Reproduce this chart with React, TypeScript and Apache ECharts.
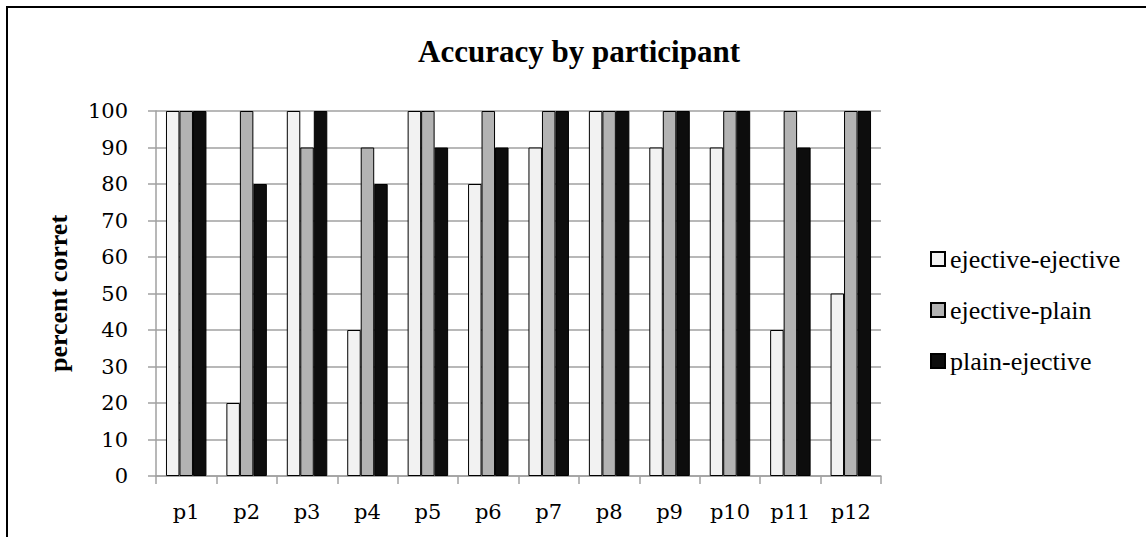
import React, { useEffect, useRef } from "react";
import * as echarts from "echarts";

const participants = ["p1", "p2", "p3", "p4", "p5", "p6", "p7", "p8", "p9", "p10", "p11", "p12"];
const ejectiveEjective = [100, 20, 100, 40, 100, 80, 90, 100, 90, 90, 40, 50];
const ejectivePlain = [100, 100, 90, 90, 100, 100, 100, 100, 100, 100, 100, 100];
const plainEjective = [100, 80, 100, 80, 90, 90, 100, 100, 100, 100, 90, 100];
const seriesNames = ["ejective-ejective", "ejective-plain", "plain-ejective"];
const seriesColors = ["#f2f2f2", "#b3b3b3", "#0d0d0d"];
const yTicks = { min: 0, max: 100, interval: 10 };

export default function App() {
  const ref = useRef<HTMLDivElement>(null);
  useEffect(() => {
    if (!ref.current) return;
    const chart = echarts.init(ref.current, null, { renderer: "svg" });
    const values = [ejectiveEjective, ejectivePlain, plainEjective];
    const grayLine = { color: "#a0a0a0", width: 1.5 };
    chart.setOption({
      animation: false,
      backgroundColor: "#ffffff",
      title: {
        text: "Accuracy by participant",
        left: 418,
        top: 36,
        padding: 0,
        textStyle: {
          fontFamily: "Liberation Serif",
          fontWeight: "bold",
          fontSize: 31,
          color: "#000",
        },
      },
      legend: {
        orient: "vertical",
        left: 930,
        top: 246,
        padding: 0,
        itemWidth: 14,
        itemHeight: 14,
        itemGap: 25,
        icon: "rect",
        data: seriesNames,
        textStyle: {
          fontFamily: "Liberation Serif",
          fontSize: 26,
          lineHeight: 26,
          color: "#000",
        },
      },
      grid: { left: 156, right: 265, top: 111, bottom: 61 },
      xAxis: {
        type: "category",
        data: participants,
        axisLine: { lineStyle: grayLine },
        axisTick: { show: true, length: 8, lineStyle: grayLine, alignWithLabel: false },
        axisLabel: {
          margin: 25,
          fontFamily: "DejaVu Serif",
          fontSize: 21,
          color: "#000",
        },
        splitLine: { show: false },
      },
      yAxis: {
        type: "value",
        min: yTicks.min,
        max: yTicks.max,
        interval: yTicks.interval,
        name: "percent corret",
        nameLocation: "middle",
        nameRotate: 90,
        nameGap: 85,
        nameTextStyle: {
          fontFamily: "Liberation Serif",
          fontWeight: "bold",
          fontSize: 26,
          color: "#000",
        },
        axisLine: { show: true, lineStyle: grayLine },
        axisTick: { show: true, length: 8, lineStyle: grayLine },
        axisLabel: {
          margin: 28,
          fontFamily: "DejaVu Serif",
          fontSize: 21,
          color: "#000",
        },
        splitLine: { show: true, lineStyle: grayLine },
      },
      graphic: [
        {
          type: "rect",
          shape: { x: 7, y: 7, width: 1300, height: 700 },
          style: { fill: "none", stroke: "#000", lineWidth: 2 },
          silent: true,
        },
      ],
      series: seriesNames.map((name, i) => ({
        name,
        type: "bar",
        data: values[i],
        barGap: "0%",
        barCategoryGap: "33%",
        itemStyle: { color: seriesColors[i], borderColor: "#000", borderWidth: 1 },
      })),
    });
    return () => chart.dispose();
  }, []);
  return (
    <div
      ref={ref}
      style={{ position: "fixed", left: 0, top: 0, width: 1146, height: 537 }}
    />
  );
}
